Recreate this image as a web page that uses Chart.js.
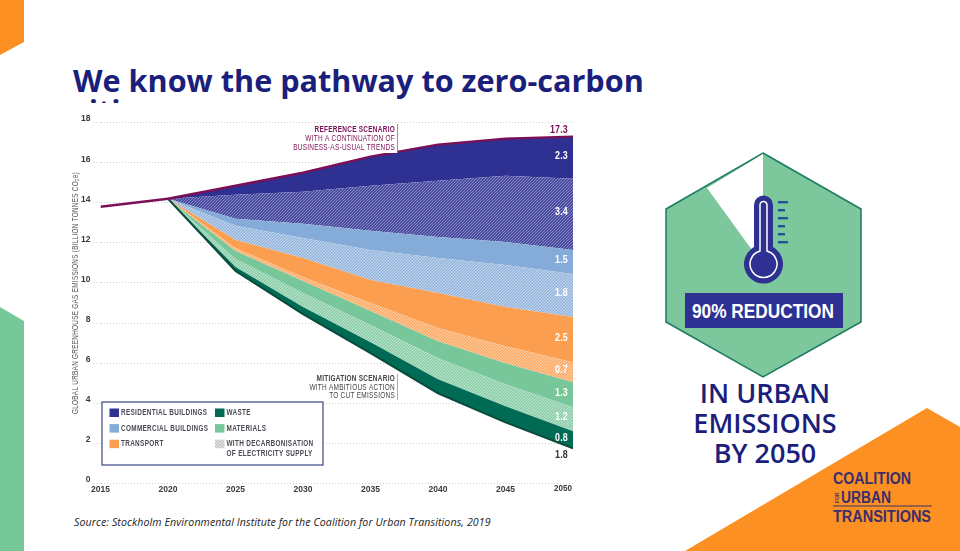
<!DOCTYPE html>
<html><head><meta charset="utf-8">
<style>
html,body{margin:0;padding:0;background:#fff;width:960px;height:551px;overflow:hidden}
#deco{position:absolute;left:0;top:0}
#title{position:absolute;left:73px;top:64.500px;width:600px;font:700 30.6px/30px "Open Sans",sans-serif;color:#1b1f7c;white-space:nowrap}
#chart{position:absolute;left:72px;top:103px;background:#fff}
#src{position:absolute;left:74px;top:515px;font:italic 400 10.6px/14px "Open Sans",sans-serif;color:#222;white-space:nowrap;letter-spacing:.105px}
#sub{position:absolute;left:665px;top:378px;width:200px;text-align:center;font:600 27px/30px "Open Sans",sans-serif;color:#1b1f7c}
</style></head><body>
<svg id="deco" width="960" height="551" xmlns="http://www.w3.org/2000/svg">
<polygon points="0,0 24,0 24,42 0,55" fill="#fd9023"/>
<polygon points="0,307 24,321 24,551 0,551" fill="#76c898"/>
<polygon points="927,408 960,427 960,551 685,551" fill="#fd9023"/>
<polygon points="763,153 861,209 861,322 763,377 666,322 666,209" fill="#7cc79b" stroke="#1d7a5f" stroke-width="1.5"/>
<polygon points="763,154 707,188 752,250 763,250" fill="#fff"/>
<path d="M754,205a9.5,9.5 0 0 1 19,0V247A19.5,19.5 0 1 1 754,247Z" fill="#2e3192"/>
<path d="M760,205a3.5,3.5 0 0 1 7,0V251A13.5,13.5 0 1 1 760,251Z" fill="#2e3192" stroke="#fff" stroke-width="1.5"/>
<g fill="#24529a"><rect x="778" y="201" width="10" height="2.4"/><rect x="778" y="209" width="7" height="2.4"/><rect x="778" y="217" width="10" height="2.4"/><rect x="778" y="225" width="7" height="2.4"/><rect x="778" y="233" width="7" height="2.4"/><rect x="778" y="241" width="10" height="2.4"/></g>
<rect x="685" y="293" width="158" height="35" fill="#2e3192"/>
<text x="692" y="318" textLength="142" lengthAdjust="spacingAndGlyphs" fill="#fff" font-family="'Liberation Sans',sans-serif" font-weight="700" font-size="21">90% REDUCTION</text>
<g fill="#3a2f6b" font-family="'Liberation Sans',sans-serif" font-weight="700" font-size="16">
<text x="833" y="484" textLength="78" lengthAdjust="spacingAndGlyphs">COALITION</text>
<text x="841" y="503" textLength="50" lengthAdjust="spacingAndGlyphs">URBAN</text>
<text x="833" y="522" textLength="98" lengthAdjust="spacingAndGlyphs">TRANSITIONS</text>
<text transform="translate(838.500,503) rotate(-90)" font-size="5">FOR</text>
</g>
<rect x="833" y="505.500" width="99" height="1" fill="#3a2f6b"/>
</svg>
<div id="title">We know the pathway to zero-carbon<br>cities</div>
<div id="sub">IN URBAN<br>EMISSIONS<br>BY 2050</div>
<canvas id="chart" width="508" height="400"></canvas>
<div id="src">Source: Stockholm Environmental Institute for the Coalition for Urban Transitions, 2019</div>
<script src="https://cdn.jsdelivr.net/npm/chart.js@4"></script>
<script>
const years=[2020,2025,2030,2035,2040,2045,2050];
const historyYears=[2015,2020];
const historyValues=[13.8,14.2];
const referenceScenario=[14.2,14.85,15.5,16.3,16.9,17.2,17.3];
const mitigationScenario=[14.2,10.6,8.45,6.5,4.5,3.05,1.75];
const waste=[0,.2,.35,.55,.7,.8,.85];
const materialsDecarb=[0,.4,.7,.85,1.05,1.1,1.2];
const materials=[0,.4,.6,.7,.85,1.05,1.25];
const transportDecarb=[0,.15,.2,.4,.65,.85,1.0];
const transport=[0,.4,.95,1.15,1.75,1.95,2.25];
const commercialDecarb=[0,.7,1.0,1.5,1.75,2.1,2.15];
const commercial=[0,.35,.7,.95,1.05,1.15,1.2];
const residentialDecarb=[0,1.2,1.6,2.25,2.8,3.3,3.55];
const residential=[0,.45,.95,1.45,1.8,1.85,2.1];
const bandLabels=["0.8","1.2","1.3","0.7","2.5","1.8","1.5","3.4","2.3"];
const topLabel="17.3", bottomLabel="1.8";
const xTickLabels=[2015,2020,2025,2030,2035,2040,2045,2050];
const yTickLabels=[0,2,4,6,8,10,12,14,16,18];
const yAxisTitle="GLOBAL URBAN GREENHOUSE GAS EMISSIONS (BILLION TONNES CO\u2082e)";
const referenceNote=["REFERENCE SCENARIO","WITH A CONTINUATION OF","BUSINESS-AS-USUAL TRENDS"];
const mitigationNote=["MITIGATION SCENARIO","WITH AMBITIOUS ACTION","TO CUT EMISSIONS"];
const legendLeft=["RESIDENTIAL BUILDINGS","COMMERCIAL BUILDINGS","TRANSPORT"];
const legendRight=["WASTE","MATERIALS","WITH DECARBONISATION","OF ELECTRICITY SUPPLY"];

const NAVY="#2e3192",BLUE="#85abd8",ORANGE="#fb9e4f",GREEN="#78c79b",DKGREEN="#006b54",MAROON="#7b0f55";
const FONT='"Liberation Sans",sans-serif';
function hatch(color,line){
  const c=document.createElement("canvas");c.width=c.height=3;
  const g=c.getContext("2d");g.fillStyle=color;g.fillRect(0,0,3,3);
  g.strokeStyle=line;g.lineWidth=1.1;
  g.beginPath();g.moveTo(-1,1);g.lineTo(1,-1);g.moveTo(-1,4);g.lineTo(4,-1);g.moveTo(2,4);g.lineTo(4,2);g.stroke();
  return g.createPattern(c,"repeat");
}
const pts=(xs,ys)=>xs.map((x,i)=>({x,y:ys[i]}));
const band=(label,values,fillStyle)=>({label,data:pts(years,values),stack:"s",fill:"-1",backgroundColor:fillStyle,borderWidth:0,pointRadius:0,tension:0,order:5});

const datasets=[
 {label:"Mitigation scenario",data:pts(years,mitigationScenario),stack:"s",fill:false,borderColor:"#0b4a3c",borderWidth:2,pointRadius:0,tension:0,order:1},
 band("Waste",waste,DKGREEN),
 band("Materials (decarbonised supply)",materialsDecarb,hatch(GREEN,"rgba(255,255,255,.55)")),
 band("Materials",materials,GREEN),
 band("Transport (decarbonised supply)",transportDecarb,hatch(ORANGE,"rgba(255,255,255,.55)")),
 band("Transport",transport,ORANGE),
 band("Commercial (decarbonised supply)",commercialDecarb,hatch(BLUE,"rgba(255,255,255,.55)")),
 band("Commercial buildings",commercial,BLUE),
 band("Residential (decarbonised supply)",residentialDecarb,hatch(NAVY,"rgba(255,255,255,.45)")),
 band("Residential buildings",residential,NAVY),
 {label:"Reference scenario",data:pts(years,referenceScenario),stack:"r",fill:false,borderColor:MAROON,borderWidth:2.4,pointRadius:0,tension:0,order:0},
 {label:"History",data:pts(historyYears,historyValues),stack:"h",fill:false,borderColor:MAROON,borderWidth:2.4,pointRadius:0,tension:0,order:0}
];

const overlay={id:"overlay",afterDatasetsDraw(chart){
  const c=chart.ctx,xs=chart.scales.x,ys=chart.scales.y;
  c.save();c.translate(-72,-103);
  const px=v=>xs.getPixelForValue(v)+72, py=v=>ys.getPixelForValue(v)+103;
  const put=(t,x,y,font,col,al,ls,sx)=>{c.save();c.translate(x,y);c.scale(sx||.78,1);c.font=font;c.fillStyle=col;c.textAlign=al||"left";c.textBaseline="middle";c.letterSpacing=(ls||0)+"px";c.fillText(t,0,0);c.restore();};
  const B="700 8.5px "+FONT,R="400 8.5px "+FONT;
  put(String(xTickLabels[xTickLabels.length-1]),px(2050)-10,489,"700 8.5px "+FONT,"#3a3a3a","center",0,.95);
  const layers=[waste,materialsDecarb,materials,transportDecarb,transport,commercialDecarb,commercial,residentialDecarb,residential];
  let lo=mitigationScenario[6];
  const ex=px(2050)-5;
  layers.forEach((l,i)=>{const hi=lo+l[6];put(bandLabels[i],ex,py((lo+hi)/2)-2,"700 10.5px "+FONT,"#fff","right",.2,.85);lo=hi;});
  put(topLabel,ex,py(referenceScenario[6])-7,"700 10.5px "+FONT,MAROON,"right",.2,.85);
  put(bottomLabel,ex,py(mitigationScenario[6])+7,"700 10.5px "+FONT,"#333","right",.2,.85);
  c.fillStyle="#fff";c.fillRect(290,123,107,30);
  referenceNote.forEach((t,i)=>put(t,395,130+i*9,i?R:B,MAROON,"right",.35,.76));
  c.fillStyle="#9b6a88";c.fillRect(397,124,.8,29);
  mitigationNote.forEach((t,i)=>put(t,395,378.5+i*8.8,i?R:B,"#444","right",.35,.76));
  c.fillStyle="#999";c.fillRect(397,374,.8,26);
  c.save();c.translate(76,293);c.rotate(-Math.PI/2);put(yAxisTitle,0,0,R,"#555","center",.38,.75);c.restore();
  c.fillStyle="#fff";c.fillRect(102,402,221,63);
  c.strokeStyle="#3d4585";c.lineWidth=1.2;c.strokeRect(102,402,221,63);
  const sw=(x,y,f)=>{c.fillStyle=f;c.fillRect(x,y,9.500,8.500);};
  const LF="700 8.2px "+FONT,LC="#4a4a55";
  [NAVY,BLUE,ORANGE].forEach((f,i)=>{sw(109.5,408.5+i*15.6,f);put(legendLeft[i],121,413+i*15.6,LF,LC,"left",.42,.78);});
  sw(215,408.5,DKGREEN);sw(215,424.1,GREEN);
  sw(215,439.7,hatch("#bbb","rgba(255,255,255,.7)"));
  put(legendRight[0],226.5,413,LF,LC,"left",.42,.78);
  put(legendRight[1],226.5,428.6,LF,LC,"left",.42,.78);
  put(legendRight[2],226.5,444.2,LF,LC,"left",.42,.78);
  put(legendRight[3],226.5,453.6,LF,LC,"left",.42,.78);
  c.restore();
}};

new Chart(document.getElementById("chart"),{
 type:"line",
 data:{datasets},
 plugins:[overlay],
 options:{
  responsive:false,animation:false,
  layout:{padding:{left:0,right:7,top:19.6,bottom:0}},
  plugins:{legend:{display:false},tooltip:{enabled:false},title:{display:false}},
  scales:{
   x:{type:"linear",min:2015,max:2050,
      afterFit(s){s.height=19.5;},
      afterBuildTicks(s){s.ticks=xTickLabels.map(v=>({value:v}));},
      border:{display:false},grid:{display:false,drawTicks:false},
      ticks:{maxRotation:0,autoSkip:false,padding:1,color:"#3a3a3a",font:{family:FONT,size:8.5,weight:"700"},
             callback:v=>v===xTickLabels[xTickLabels.length-1]?"":String(v)}},
   y:{stacked:true,min:0,max:18,
      afterFit(s){s.width=28.5;},
      afterBuildTicks(s){s.ticks=yTickLabels.map(v=>({value:v}));},
      border:{display:false,dash:[1,2]},
      grid:{color:"#c4c4c4",lineWidth:.8,tickLength:7,tickColor:"#c4c4c4",tickBorderDash:[1,2]},
      ticks:{padding:3,labelOffset:-3.5,color:"#3a3a3a",font:{family:FONT,size:8.5,weight:"700"},autoSkip:false,
             callback:v=>String(v)}}
  }
 }
});
</script>
</body></html>
